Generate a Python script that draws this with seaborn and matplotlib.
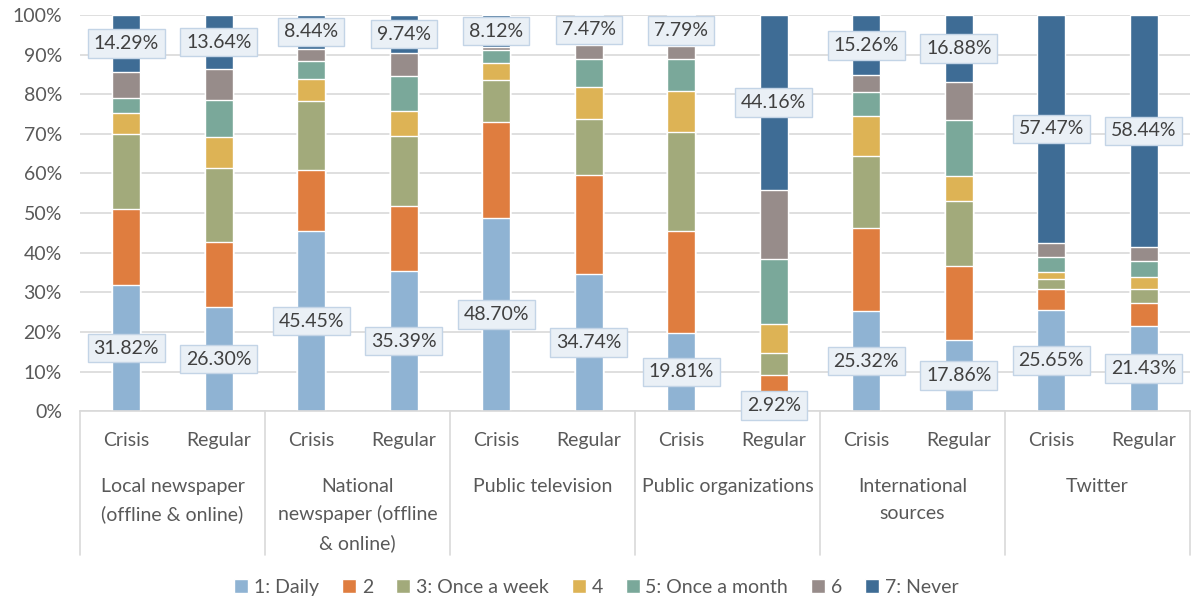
import numpy as np
import pandas as pd
import matplotlib.pyplot as plt
import seaborn as sns
from matplotlib.transforms import blended_transform_factory

# 数据：每个来源两根柱（危机时期 / 平时），7 个使用频率档位（百分比）
groups = ['Local newspaper\n(offline & online)', 'National\nnewspaper (offline\n& online)',
          'Public television', 'Public organizations', 'International\nsources', 'Twitter']
periods = ['Crisis', 'Regular']
series_names = ['1: Daily', '2', '3: Once a week', '4', '5: Once a month', '6', '7: Never']

daily     = [31.82, 26.30, 45.45, 35.39, 48.70, 34.74, 19.81, 2.92, 25.32, 17.86, 25.65, 21.43]
level_2   = [19.16, 16.30, 15.50, 16.40, 24.20, 24.90, 25.70, 6.20, 21.00, 18.80, 5.20, 5.80]
weekly    = [19.00, 18.70, 17.40, 17.70, 10.70, 14.10, 25.00, 5.50, 18.10, 16.40, 2.50, 3.60]
level_4   = [5.20, 8.00, 5.40, 6.30, 4.20, 8.20, 10.40, 7.50, 10.10, 6.30, 1.80, 3.00]
monthly   = [4.00, 9.20, 4.70, 8.90, 3.40, 6.90, 7.90, 16.20, 6.00, 14.10, 3.80, 4.10]
level_6   = [6.44, 7.86, 3.06, 5.62, 0.68, 3.69, 3.39, 17.52, 4.22, 9.66, 3.58, 3.60]
never     = [14.29, 13.64, 8.44, 9.74, 8.12, 7.47, 7.79, 44.16, 15.26, 16.88, 57.47, 58.44]

colors = ['#8FB3D3', '#DF7D3F', '#A2AA7B', '#DDB355', '#7AA89A', '#978C8A', '#3E6C95']

values = np.array([daily, level_2, weekly, level_4, monthly, level_6, never])
cum = values.cumsum(axis=0)
bar_ids = np.arange(values.shape[1])

sns.set_style('white')
plt.rcParams['font.family'] = ['Lato', 'DejaVu Sans']

fig = plt.figure(figsize=(11.93, 6.02), dpi=100)
ax = fig.add_axes([0.067, 0.317, 0.9305, 0.658])

# 叠加法画堆积柱：先画累计最高的，再依次覆盖
for k in range(len(series_names) - 1, -1, -1):
    sns.barplot(x=bar_ids, y=cum[k], color=colors[k], width=0.3, saturation=1,
                label=series_names[k], ax=ax, zorder=2)

handles, labels = ax.get_legend_handles_labels()
if ax.get_legend() is not None:
    ax.get_legend().remove()

ax.set_ylim(0, 100)
ax.set_xlim(-0.5, len(bar_ids) - 0.5)
ax.set_yticks(np.arange(0, 101, 10))
ax.set_yticklabels([f'{t}%' for t in range(0, 101, 10)])
ax.yaxis.grid(True, color='#D9D9D9', linewidth=1.2, zorder=0)
ax.set_axisbelow(True)
for s in ['top', 'right', 'left']:
    ax.spines[s].set_visible(False)
ax.spines['bottom'].set_color('#D9D9D9')
ax.spines['bottom'].set_linewidth(1.2)
ax.set_xticks(bar_ids)
ax.set_xticklabels(periods * len(groups))
ax.tick_params(axis='x', length=0, pad=15, labelsize=14, labelcolor='#595959')
ax.tick_params(axis='y', length=0, pad=13, labelsize=14, labelcolor='#595959')
ax.set_xlabel('')
ax.set_ylabel('')

# 数据标签（只标 1 和 7）
for k in [0, 6]:
    bottoms = cum[k] - values[k]
    for i in bar_ids:
        ax.text(i, bottoms[i] + values[k][i] / 2, f'{values[k][i]:.2f}%',
                ha='center', va='center', fontsize=14, color='#404040', zorder=5,
                bbox=dict(boxstyle='square,pad=0.3', fc='#EAF0F6', ec='#C3D4E6', lw=1))

# 分组标签和分隔线
trans = blended_transform_factory(ax.transData, ax.transAxes)
for g, name in enumerate(groups):
    ax.text(2 * g + 0.5, -0.168, name, transform=trans, ha='center', va='top',
            fontsize=14, color='#595959', linespacing=1.7)
for b in range(len(groups) + 1):
    ax.plot([2 * b - 0.5, 2 * b - 0.5], [0, -0.364], transform=trans, color='#D9D9D9',
            lw=1.2, clip_on=False)

fig.legend(handles[::-1], labels[::-1], loc='center', bbox_to_anchor=(0.5, 0.024), ncol=7,
           frameon=False, fontsize=14, labelcolor='#595959', handlelength=0.7,
           handleheight=0.7, handletextpad=0.3, columnspacing=1.2)

plt.savefig('out.png', dpi=100, facecolor='white')
